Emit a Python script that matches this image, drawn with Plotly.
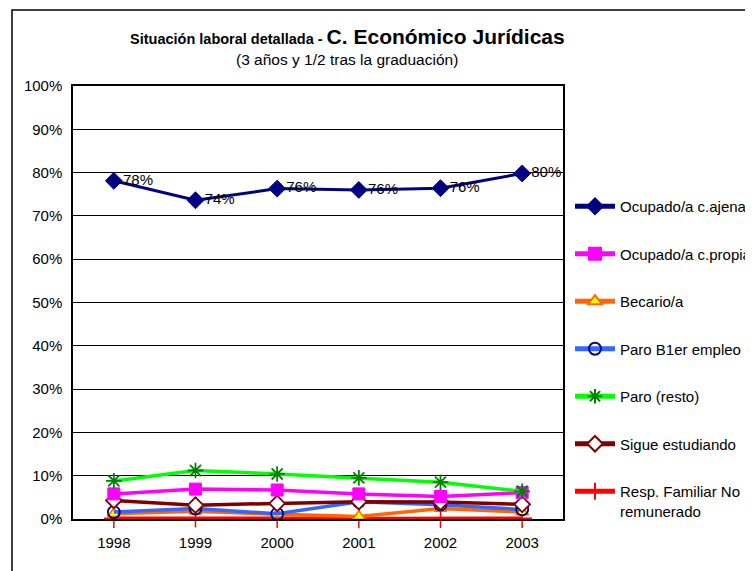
import plotly.graph_objects as go

years = ["1998", "1999", "2000", "2001", "2002", "2003"]
ocup_ajena = [0.781, 0.736, 0.763, 0.760, 0.764, 0.798]
ocup_propia = [0.058, 0.069, 0.067, 0.058, 0.052, 0.061]
becario = [0.012, 0.018, 0.011, 0.006, 0.024, 0.016]
paro_b1 = [0.016, 0.024, 0.012, 0.040, 0.033, 0.022]
paro_resto = [0.088, 0.112, 0.104, 0.095, 0.085, 0.064]
sigue_est = [0.043, 0.032, 0.036, 0.040, 0.039, 0.034]
resp_fam = [0.002, 0.003, 0.002, 0.001, 0.002, 0.002]

names = ["Ocupado/a c.ajena", "Ocupado/a c.propia", "Becario/a", "Paro B1er empleo",
         "Paro (resto)", "Sigue estudiando", "Resp. Familiar No<br>remunerado"]

font = "Liberation Sans, Arial, sans-serif"
fig = go.Figure()

styles = [
    (ocup_ajena, "#000080", dict(symbol="diamond", size=13, color="#000080", line=dict(color="#000080", width=1))),
    (ocup_propia, "#FF00FF", dict(symbol="square", size=12, color="#FF00FF", line=dict(color="#FF00FF", width=1))),
    (becario, "#FF6600", dict(symbol="triangle-up", size=11, color="#FFFF00", line=dict(color="#FF6600", width=1.5))),
    (paro_b1, "#3366FF", dict(symbol="circle-open", size=12, color="#000080", line=dict(color="#000080", width=1.8))),
    (paro_resto, "#00FF00", dict(symbol="asterisk-open", size=13, color="#008000", line=dict(color="#008000", width=1.8))),
    (sigue_est, "#800000", dict(symbol="diamond", size=12, color="#FFFFFF", line=dict(color="#800000", width=1.8))),
    (resp_fam, "#FF0000", dict(symbol="cross-thin-open", size=14, color="#FF0000", line=dict(color="#FF0000", width=1.5))),
]

order = [6, 2, 3, 5, 1, 4, 0]
for i in order:
    vals, lc, mk = styles[i]
    if i == 0:
        kw = dict(mode="lines+markers+text", texttemplate="%{y:.0%}", textposition="middle right",
                  textfont=dict(family=font, size=15, color="#000000"))
    else:
        kw = dict(mode="lines+markers")
    fig.add_trace(go.Scatter(x=years, y=vals, name=names[i], legendgroup=str(i), legendrank=i,
                             line=dict(color=lc, width=3.5 if i else 3), marker=mk, cliponaxis=False, **kw))

# The page body adds an 8px offset; margins compensate so the plot area lands at x 73-563, y 86-519
OFF = 8
W, H = 753, 571
L, R, T, B = 73 - OFF, W - (563 - OFF), 86 - OFF, H - (519 - OFF)
plot_w = W - L - R
plot_h = H - T - B

def px_x(x):
    return (x - OFF - L) / plot_w

def px_y(y):
    return ((H - B) - (y - OFF)) / plot_h

fig.update_layout(
    width=W, height=H,
    margin=dict(l=L, r=R, t=T, b=B, autoexpand=False),
    paper_bgcolor="white", plot_bgcolor="white",
    font=dict(family=font, size=15, color="#000000"),
    showlegend=True,
    legend=dict(x=px_x(570), xanchor="left", y=px_y(190), yanchor="top", tracegroupgap=25,
                itemwidth=40, itemsizing="constant",
                font=dict(family=font, size=15, color="#000000"), valign="top",
                bgcolor="rgba(0,0,0,0)"),
    xaxis=dict(type="category", range=[-0.5, 5.5], showgrid=False, showline=True, mirror=True,
               linecolor="#000000", linewidth=1.5, ticks="", tickfont=dict(size=15),
               ticklabelstandoff=9),
    yaxis=dict(range=[0, 1], dtick=0.1, tickformat=".0%", showgrid=True, gridcolor="#000000",
               gridwidth=1, showline=True, mirror=True, linecolor="#000000", linewidth=1.5,
               ticks="", tickfont=dict(size=15), zeroline=False, ticklabelstandoff=6),
    annotations=[
        dict(xref="paper", yref="paper", x=px_x(347), y=px_y(36),
             text="<b>Situación laboral detallada - </b><b><span style='font-size:21px'>C. Económico Jurídicas</span></b>",
             showarrow=False, xanchor="center", yanchor="middle", font=dict(family=font, size=14.5)),
        dict(xref="paper", yref="paper", x=px_x(347), y=px_y(59),
             text="(3 años y 1/2 tras la graduación)",
             showarrow=False, xanchor="center", yanchor="middle", font=dict(family=font, size=15.5)),
    ],
    shapes=[dict(type="rect", xref="paper", yref="paper", x0=px_x(12), x1=px_x(800),
                 y0=px_y(640), y1=px_y(10), line=dict(color="#000000", width=1.5), layer="below")],
)
fig.write_html("out.html")
